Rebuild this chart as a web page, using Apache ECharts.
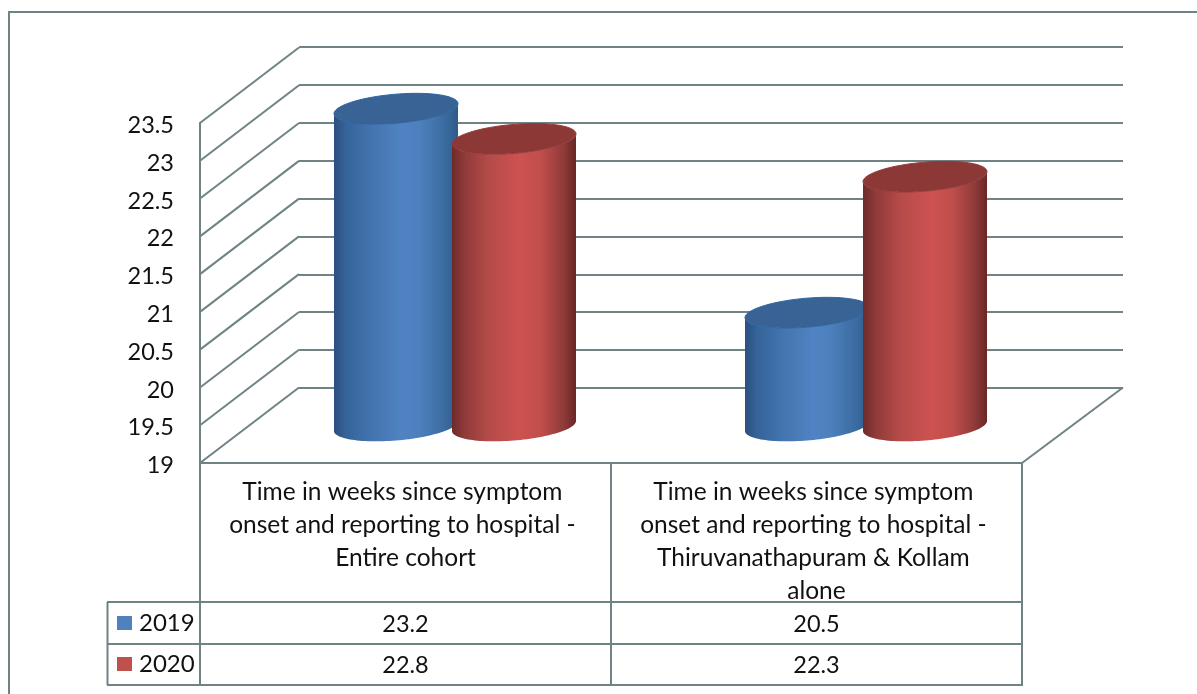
<!DOCTYPE html>
<html>
<head>
<meta charset="utf-8">
<style>
  html, body { margin: 0; padding: 0; background: #fff; }
  #chart { width: 1197px; height: 694px; }
</style>
<script src="https://cdn.jsdelivr.net/npm/echarts@6/dist/echarts.min.js"></script>
</head>
<body>
<div id="chart"></div>
<script>
const categories = [
  'Time in weeks since symptom onset and reporting to hospital - Entire cohort',
  'Time in weeks since symptom onset and reporting to hospital - Thiruvanathapuram & Kollam alone'
];
const values2019 = [23.2, 20.5];
const values2020 = [22.8, 22.3];
const axisMin = 19;
const axisMax = 23.5;
const axisStep = 0.5;
const axisTicks = [19, 19.5, 20, 20.5, 21, 21.5, 22, 22.5, 23, 23.5];

const lineColor = '#6f8385';
const fontName = 'Lato';

// bar colours, left to right across the cylinder
const blueStops = [
  [0, '#2b4f7e'], [0.1, '#35649a'], [0.3, '#4474ae'], [0.55, '#5083c3'],
  [0.7, '#4c7fbb'], [0.9, '#3a6a9f'], [1, '#2f5b8b']
];
const redStops = [
  [0, '#6e2a2a'], [0.1, '#8f3a39'], [0.3, '#b54b49'], [0.55, '#cd5250'],
  [0.72, '#c04e4b'], [0.9, '#8f3b39'], [1, '#6a2625']
];

function gradient(stops) {
  return new echarts.graphic.LinearGradient(0, 0, 1, 0, stops.map(s => ({ offset: s[0], color: s[1] })));
}

// half width, tilt and half height of the cylinder ends
const rx = 62;
const tilt = 5;
const ry = 14.5;

function ringPoint(cx, cy, t) {
  return [cx + rx * Math.cos(t), cy - tilt * Math.cos(t) + ry * Math.sin(t)];
}

function cylinder(offset, stops, capColor, capEdge) {
  return function (params, api) {
    const top = api.coord([api.value(0), api.value(1)]);
    const bottom = api.coord([api.value(0), axisMin]);
    const cx = top[0] + offset;
    const body = [];
    const cap = [];
    for (let i = 0; i <= 60; i++) {
      // lower half of the bottom ring, right to left reversed below
      body.push(ringPoint(cx, bottom[1], Math.PI * i / 60));
    }
    // up the left side and back along the top ring
    for (let i = 60; i >= 0; i--) {
      body.push(ringPoint(cx, top[1], Math.PI * i / 60));
    }
    for (let i = 0; i < 120; i++) {
      cap.push(ringPoint(cx, top[1], Math.PI * 2 * i / 120));
    }
    return {
      type: 'group',
      children: [
        { type: 'polygon', shape: { points: body }, style: { fill: gradient(stops) } },
        { type: 'polygon', shape: { points: cap }, style: { fill: capColor, stroke: capEdge, lineWidth: 1 } }
      ]
    };
  };
}

function tableLine(x1, y1, x2, y2) {
  return {
    type: 'line',
    shape: { x1: x1, y1: y1, x2: x2, y2: y2 },
    style: { stroke: lineColor, lineWidth: 2 },
    silent: true
  };
}

const myChart = echarts.init(document.getElementById('chart'), null, { renderer: 'canvas' });

const option = {
  animation: false,
  backgroundColor: '#fff',
  textStyle: { fontFamily: fontName },
  legend: {
    orient: 'vertical',
    left: 117,
    top: 611,
    padding: 0,
    itemWidth: 15,
    itemHeight: 14,
    itemGap: 17,
    icon: 'rect',
    selectedMode: false,
    textStyle: { fontFamily: fontName, fontSize: 24, color: '#111', padding: [0, 0, 0, 2] },
    data: ['2019', '2020']
  },
  grid: [
    { left: 200, top: 123, width: 822, height: 340 },   // front plane, carries the labels
    { left: 299, top: 47, width: 824, height: 341 },    // back wall
    { left: 249.5, top: 86, width: 822, height: 340 }   // plane the cylinders stand on
  ],
  xAxis: [
    {
      gridIndex: 0,
      type: 'category',
      data: categories,
      axisTick: { show: false },
      axisLine: { lineStyle: { color: lineColor, width: 2 } },
      axisLabel: {
        interval: 0,
        margin: 12,
        width: 362,
        overflow: 'break',
        lineHeight: 33.3,
        fontFamily: fontName,
        fontSize: 24.5,
        color: '#111',
        verticalAlign: 'top'
      }
    },
    { gridIndex: 1, type: 'category', data: categories, show: false },
    { gridIndex: 2, type: 'category', data: categories, show: false }
  ],
  yAxis: [
    {
      gridIndex: 0,
      type: 'value',
      min: axisMin,
      max: axisMax,
      interval: axisStep,
      axisLine: { show: true, lineStyle: { color: lineColor, width: 2 } },
      axisTick: { show: false },
      splitLine: { show: false },
      axisLabel: {
        margin: 26,
        formatter: v => '{tick|' + v + '}',
        rich: {
          tick: {
            padding: [5, 0, 0, 0],
            fontFamily: fontName,
            fontSize: 23.5,
            color: '#111'
          }
        }
      }
    },
    {
      gridIndex: 1,
      type: 'value',
      min: axisMin,
      max: axisMax,
      interval: axisStep,
      axisLine: { show: false },
      axisTick: { show: false },
      axisLabel: { show: false },
      splitLine: { show: true, lineStyle: { color: lineColor, width: 2 } }
    },
    { gridIndex: 2, type: 'value', min: axisMin, max: axisMax, interval: axisStep, show: false }
  ],
  series: [
    {
      // side wall diagonals from the front plane to the back wall
      type: 'custom',
      xAxisIndex: 0,
      yAxisIndex: 0,
      silent: true,
      clip: false,
      data: axisTicks.map(t => [0, t]),
      renderItem: function (params, api) {
        const front = api.coord([0, api.value(1)]);
        const x0 = params.coordSys.x;
        return tableLine(x0, front[1], x0 + 99, front[1] - 75.5);
      }
    },
    {
      // floor edge on the right
      type: 'custom',
      xAxisIndex: 0,
      yAxisIndex: 0,
      silent: true,
      clip: false,
      data: [[0, axisMin]],
      renderItem: function (params, api) {
        const y0 = api.coord([0, api.value(1)])[1];
        const x1 = params.coordSys.x + params.coordSys.width;
        return tableLine(x1, y0, x1 + 101, y0 - 75.5);
      }
    },
    {
      name: '2019',
      type: 'custom',
      xAxisIndex: 2,
      yAxisIndex: 2,
      clip: false,
      z: 3,
      itemStyle: { color: '#4f81bd' },
      data: values2019.map((v, i) => [i, v]),
      encode: { x: 0, y: 1 },
      renderItem: cylinder(-59, blueStops, '#386394', '#2b65a3')
    },
    {
      name: '2020',
      type: 'custom',
      xAxisIndex: 2,
      yAxisIndex: 2,
      clip: false,
      z: 4,
      itemStyle: { color: '#c0504d' },
      data: values2020.map((v, i) => [i, v]),
      encode: { x: 0, y: 1 },
      renderItem: cylinder(59, redStops, '#8c3836', '#943b39')
    },
    {
      // data table values, one row per year
      type: 'custom',
      xAxisIndex: 0,
      yAxisIndex: 0,
      silent: true,
      clip: false,
      data: values2019.map((v, i) => [i, v]).concat(values2020.map((v, i) => [i, v])),
      renderItem: function (params, api) {
        const x = api.coord([api.value(0), axisMin])[0];
        const y = params.dataIndex < values2019.length ? 624 : 665;
        return {
          type: 'text',
          style: {
            x: x,
            y: y,
            text: api.value(1).toFixed(1),
            fill: '#111',
            font: '23.5px ' + fontName,
            textAlign: 'center',
            textVerticalAlign: 'middle'
          }
        };
      }
    }
  ],
  graphic: {
    elements: [
      // outer frame, open to the right and at the bottom
      tableLine(9, 12, 1197, 12),
      tableLine(9, 11, 9, 694),
      // data table
      tableLine(200, 463, 200, 685),
      tableLine(611, 463, 611, 685),
      tableLine(1022, 463, 1022, 685),
      tableLine(107.5, 602, 107.5, 685),
      tableLine(107, 602, 1023, 602),
      tableLine(107, 644, 1023, 644),
      tableLine(107, 685, 1023, 685)
    ]
  }
};

myChart.setOption(option);
</script>
</body>
</html>
